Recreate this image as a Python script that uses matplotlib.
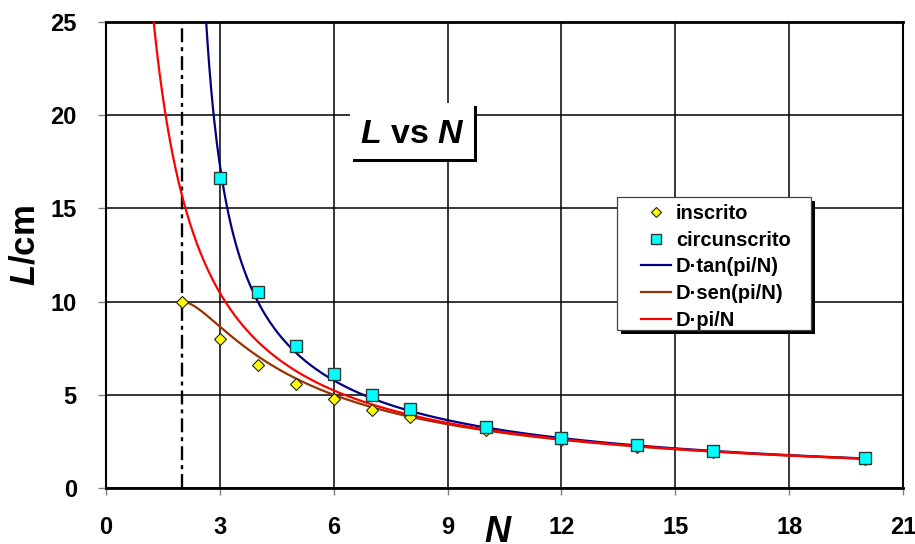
import numpy as np
import matplotlib
matplotlib.use("Agg")
import matplotlib.pyplot as plt
from matplotlib.patches import Rectangle
from matplotlib.lines import Line2D

plt.rcParams['font.family'] = ['Liberation Sans', 'DejaVu Sans']
plt.rcParams['font.weight'] = 'bold'
plt.rcParams['mathtext.fontset'] = 'custom'
plt.rcParams['mathtext.it'] = 'Liberation Sans:italic:bold'
plt.rcParams['mathtext.rm'] = 'Liberation Sans:bold'

# polygon side length L versus number of sides N, circle diameter D
D = 10.0

N_inscrito = [2, 3, 4, 5, 6, 7, 8, 10, 12, 14, 16, 20]
L_inscrito = [10.0, 8.0, 6.6, 5.6, 4.8, 4.2, 3.8, 3.1, 2.6, 2.2, 1.95, 1.55]

N_circunscrito = [3, 4, 5, 6, 7, 8, 10, 12, 14, 16, 20]
L_circunscrito = [16.65, 10.5, 7.6, 6.1, 5.0, 4.25, 3.25, 2.7, 2.3, 2.0, 1.6]

x_ticks = [0, 3, 6, 9, 12, 15, 18, 21]
y_ticks = [0, 5, 10, 15, 20, 25]

N_min = 2  # smallest polygon

W, H = 915, 544
fig = plt.figure(figsize=(W / 100, H / 100), dpi=100)


def fx(px):
    return px / W


def fy(py):
    return 1 - py / H


ax = fig.add_axes([fx(106), fy(488), fx(903) - fx(106), fy(22) - fy(488)])
ax.set_xlim(0, 21)
ax.set_ylim(0, 25)
ax.set_xticks(x_ticks)
ax.set_yticks(y_ticks)
ax.tick_params(axis='both', labelsize=17, color='#808080', width=1)
ax.tick_params(axis='y', length=6, pad=15)
ax.tick_params(axis='x', length=5, pad=15)
for lab in ax.get_xticklabels() + ax.get_yticklabels():
    lab.set_fontweight('bold')

ax.set_axisbelow(True)
ax.grid(True, color='black', lw=1.1)
for side, lw in (('top', 2.0), ('bottom', 2.0), ('left', 1.5), ('right', 1.5)):
    ax.spines[side].set_linewidth(lw)
    ax.spines[side].set_color('black')

# theoretical curves
N_tan = np.linspace(2.55, 20, 800)
N_sen = np.linspace(2, 20, 800)
N_pi = np.linspace(1.2, 20, 800)
ax.plot(N_tan, D * np.tan(np.pi / N_tan), color='#000080', lw=1.6, zorder=3)
ax.plot(N_sen, D * np.sin(np.pi / N_sen), color='#993300', lw=1.6, zorder=3)
ax.plot(N_pi, D * np.pi / N_pi, color='#FF0000', lw=1.6, zorder=3)

# N = 2 limit
ax.axvline(N_min, color='black', lw=1.7, linestyle=(0, (5.9, 2.1, 1.7, 2.1)), zorder=2)

# measured sides
ax.plot(N_inscrito, L_inscrito, linestyle='none', marker='D', markersize=6,
        markerfacecolor='#FFFF00', markeredgecolor='#222222', markeredgewidth=0.8, zorder=4)
ax.plot(N_circunscrito, L_circunscrito, linestyle='none', marker='s', markersize=8,
        markerfacecolor='#00FFFF', markeredgecolor='#2a3a3a', markeredgewidth=1.0, zorder=5)

# axis titles
fig.text(fx(25), fy(246), r'$\mathit{L}$/cm', rotation=90, ha='center', va='center',
         fontsize=25, fontweight='bold')
fig.text(fx(498), fy(542), r'$\mathit{N}$', ha='center', va='baseline', fontsize=26)

# chart title box with drop shadow
fig.add_artist(Rectangle((fx(353), fy(162)), fx(477) - fx(353), fy(106) - fy(162),
                         transform=fig.transFigure, facecolor='black', edgecolor='none', zorder=5))
fig.add_artist(Rectangle((fx(350), fy(159)), fx(474) - fx(350), fy(103) - fy(159),
                         transform=fig.transFigure, facecolor='white', edgecolor='none', zorder=6))
fig.text(fx(412), fy(143), r'$\mathit{L}$ vs $\mathit{N}$', ha='center', va='baseline',
         fontsize=24.5, fontweight='bold', zorder=7)

# legend box with drop shadow
lx0, lx1, ly0, ly1 = 617, 811, 197, 330
fig.add_artist(Rectangle((fx(lx0 + 4), fy(ly1 + 4)), fx(lx1) - fx(lx0), fy(ly0) - fy(ly1),
                         transform=fig.transFigure, facecolor='black', edgecolor='none', zorder=5))
fig.add_artist(Rectangle((fx(lx0), fy(ly1)), fx(lx1) - fx(lx0), fy(ly0) - fy(ly1),
                         transform=fig.transFigure, facecolor='white', edgecolor='#444444',
                         lw=0.9, zorder=6))

legend_labels = ['inscrito', 'circunscrito', 'D\u00b7tan(pi/N)', 'D\u00b7sen(pi/N)', 'D\u00b7pi/N']
row_y = [212, 238.5, 265, 292, 319]
fig.add_artist(Line2D([fx(656)], [fy(row_y[0])], transform=fig.transFigure, linestyle='none',
                      marker='D', markersize=5.5, markerfacecolor='#FFFF00',
                      markeredgecolor='#222222', markeredgewidth=0.8, zorder=7))
fig.add_artist(Line2D([fx(656)], [fy(row_y[1])], transform=fig.transFigure, linestyle='none',
                      marker='s', markersize=7, markerfacecolor='#00FFFF',
                      markeredgecolor='#2a3a3a', markeredgewidth=1.0, zorder=7))
for y, c in zip(row_y[2:], ['#000080', '#993300', '#FF0000']):
    fig.add_artist(Line2D([fx(641), fx(671)], [fy(y), fy(y)], transform=fig.transFigure,
                          color=c, lw=1.6, zorder=7))
for y, t in zip(row_y, legend_labels):
    fig.text(fx(676), fy(y + 7), t, ha='left', va='baseline', fontsize=14.5,
             fontweight='bold', zorder=7)

fig.savefig('out.png', dpi=100)
